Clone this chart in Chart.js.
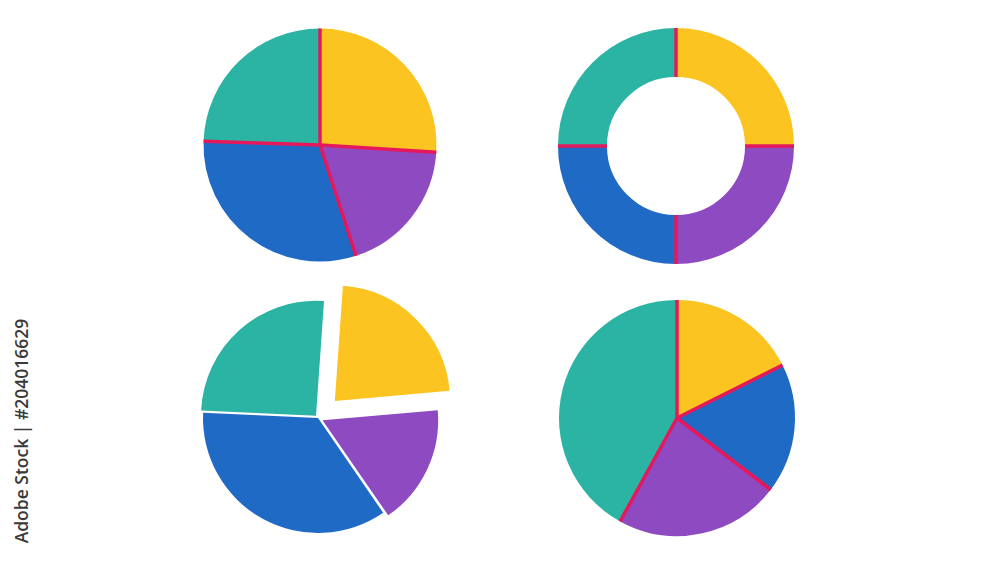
<!DOCTYPE html>
<html>
<head>
<meta charset="utf-8">
<script src="https://cdn.jsdelivr.net/npm/chart.js@4"></script>
<style>
    html, body { margin: 0; padding: 0; background: #ffffff; }
    body { width: 1000px; height: 563px; position: relative; overflow: hidden; }
    canvas { position: absolute; }
    #stamp {
        position: absolute; left: 21px; top: 431px;
        transform: translate(-50%, -50%) rotate(-90deg);
        font-family: "Open Sans", sans-serif; font-size: 17.5px; font-weight: 600;
        color: #3a3a3a; white-space: nowrap;
    }
</style>
</head>
<body>
<canvas id="pie1" width="280" height="280"></canvas>
<canvas id="pie2" width="280" height="280"></canvas>
<canvas id="pie3" width="280" height="280"></canvas>
<canvas id="pie4" width="280" height="280"></canvas>
<div id="stamp">Adobe Stock | #204016629</div>
<script>
// --- ДАННЫЕ ---
const yellow = '#FCC420', purple = '#8E4AC0', blue = '#1F6AC4', teal = '#2BB4A4';
const seamColor = '#E5185C';

// 1: обычный пирог (по часовой от верха)
const pie1Labels = ['A', 'B', 'C', 'D'];
const pie1Values = [26, 19, 30.5, 24.5];
const pie1Colors = [yellow, purple, blue, teal];

// 2: кольцо из четырёх равных частей
const pie2Labels = ['A', 'B', 'C', 'D'];
const pie2Values = [25, 25, 25, 25];
const pie2Colors = [yellow, purple, blue, teal];

// 3: пирог с выдвинутым сектором
const pie3Labels = ['A', 'B', 'C', 'D'];
const pie3Values = [22.5, 16.8, 35.3, 25.4];
const pie3Colors = [yellow, purple, blue, teal];
const pie3Offsets = [96, 20, 0, 12];

// 4: пирог с большим бирюзовым сектором
const pie4Labels = ['A', 'B', 'C', 'D'];
const pie4Values = [17.6, 17.8, 22.6, 42];
const pie4Colors = [yellow, blue, purple, teal];

// розовые швы между секторами (только радиальные линии, без внешней обводки)
const seamPlugin = {
    id: 'seams',
    afterDatasetsDraw(chart, args, opts) {
        if (!opts.show) return;
        const ctx = chart.ctx;
        const arcs = chart.getDatasetMeta(0).data;
        ctx.save();
        ctx.strokeStyle = seamColor;
        ctx.lineWidth = opts.width;
        arcs.forEach(arc => {
            const a = arc.startAngle;
            const c = Math.cos(a), s = Math.sin(a);
            ctx.beginPath();
            ctx.moveTo(arc.x + c * arc.innerRadius, arc.y + s * arc.innerRadius);
            ctx.lineTo(arc.x + c * arc.outerRadius, arc.y + s * arc.outerRadius);
            ctx.stroke();
        });
        ctx.restore();
    }
};

function place(id, cx, cy) {
    const el = document.getElementById(id);
    el.style.left = (cx - 140) + 'px';
    el.style.top = (cy - 140) + 'px';
    return el;
}

function makePie(id, cx, cy, labels, values, colors, extra) {
    const ds = {
        data: values,
        backgroundColor: colors,
        borderWidth: 0,
        offset: extra.offset || 0
    };
    new Chart(place(id, cx, cy), {
        type: extra.type || 'pie',
        data: { labels: labels, datasets: [ds] },
        options: {
            responsive: false,
            animation: false,
            radius: extra.radius,
            cutout: extra.cutout || 0,
            rotation: extra.rotation || 0,
            layout: { padding: 0 },
            plugins: {
                legend: { display: false },
                tooltip: { enabled: false },
                seams: { show: extra.seams, width: 3.5 }
            }
        },
        plugins: [seamPlugin]
    });
}

makePie('pie1', 320, 145, pie1Labels, pie1Values, pie1Colors, { radius: 116.5, seams: true });
makePie('pie2', 676, 146, pie2Labels, pie2Values, pie2Colors, { type: 'doughnut', radius: 118, cutout: '58.5%', seams: true });
makePie('pie3', 318, 418, pie3Labels, pie3Values, pie3Colors, { radius: 115, rotation: 4, offset: pie3Offsets, seams: false });
makePie('pie4', 677, 418, pie4Labels, pie4Values, pie4Colors, { radius: 118, seams: true });
</script>
</body>
</html>
